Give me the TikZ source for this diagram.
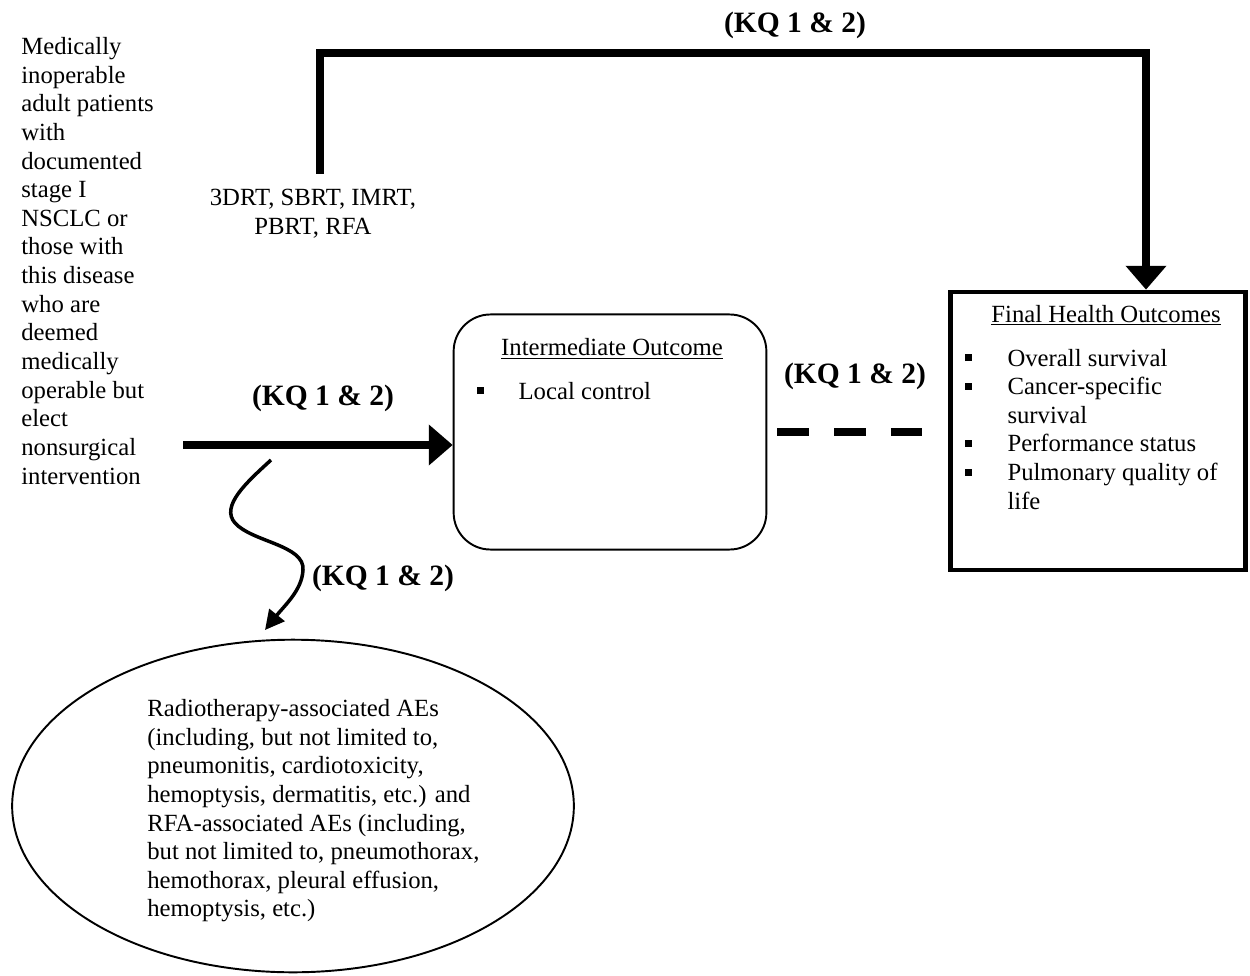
\documentclass[tikz,border=0pt]{standalone}
\usepackage{fontspec}
\setmainfont{Liberation Serif}
\usetikzlibrary{arrows.meta,shapes.geometric}
\newcommand{\sqb}{\rule[0.2em]{0.28em}{0.28em}}

\begin{document}
\begin{tikzpicture}[x=0.02cm, y=-0.02cm,
    every node/.style={inner sep=0pt, font=\fontsize{14.06}{16.3}\selectfont},
    kq/.style={anchor=base, font=\fontsize{16.8}{19}\selectfont\bfseries},
    bigarrow/.style={line width=4.8pt, -{Triangle[length=13.6pt,width=22.5pt]}},
    wavy/.style={line width=2pt, -{Triangle[length=11pt,width=11pt]}},
    dashline/.style={line width=4.8pt, dash pattern=on 18.1pt off 14.2pt}]
    \useasboundingbox (0,0) rectangle (1250,976);
    \node[anchor=north west, align=left] (pop) at (21,37) {Medically\\inoperable\\adult patients\\with\\documented\\stage I\\NSCLC or\\those with\\this disease\\who are\\deemed\\medically\\operable but\\elect\\nonsurgical\\intervention};
    \node[anchor=north, align=center] (tx) at (313,189) {3DRT, SBRT, IMRT,\\PBRT, RFA};
    \node[draw, rounded corners=21pt, line width=1.1pt, minimum width=178pt, minimum height=133.8pt] (int) at (610,432) {};
    \node[draw, line width=2.4pt, minimum width=168pt, minimum height=158.5pt] (fin) at (1098,431) {};
    \node[draw, ellipse, line width=1.1pt, minimum width=319.7pt, minimum height=189.3pt] (ae) at (293,806) {};
    \node[anchor=base] (intt) at (612,356) {\underline{Intermediate Outcome}};
    \node[anchor=base west] (intl) at (477,399) {\begin{tabular}[t]{@{}p{23.5pt}@{}l@{}}\sqb & Local control\end{tabular}};
    \node[anchor=base] (fint) at (1106,322) {\underline{Final Health Outcomes}};
    \node[anchor=base west] (finl) at (965,366) {\begin{tabular}[t]{@{}p{24pt}@{}l@{}}
        \sqb & Overall survival\\
        \sqb & Cancer-specific\\
            & survival\\
        \sqb & Performance status\\
        \sqb & Pulmonary quality of\\
            & life
    \end{tabular}};
    \node[anchor=north west, align=left] (aet) at (147,699) {Radiotherapy-associated AEs\\(including, but not limited to,\\pneumonitis, cardiotoxicity,\\hemoptysis, dermatitis, etc.) and\\RFA-associated AEs (including,\\but not limited to, pneumothorax,\\hemothorax, pleural effusion,\\hemoptysis, etc.)};
    \node[kq] (kq1) at (795,33) {(KQ 1 \& 2)};
    \node[kq] (kq2) at (323,405) {(KQ 1 \& 2)};
    \node[kq] (kq3) at (855,383) {(KQ 1 \& 2)};
    \node[kq] (kq4) at (383,585) {(KQ 1 \& 2)};
    \coordinate (txtop) at (320,174);
    \coordinate (corner) at (1146,53);
    \coordinate (start) at (183,445);
    \coordinate (wstart) at (271,460);
    \coordinate (wend) at (265,630);
        \draw[bigarrow] (txtop) |- (corner) -- (corner |- fin.north);
        \draw[bigarrow] (start) -- (start -| int.west);
        \draw[dashline, shorten <=5.7pt, shorten >=14.7pt] (int.east) -- (int.east -| fin.west);
        \draw[wavy] (wstart) .. controls (247,482) and (220,506) .. (235,523) .. controls (252,542) and (305,545) .. (303,570) .. controls (302,590) and (285,605) .. (wend);
\end{tikzpicture}
\end{document}
